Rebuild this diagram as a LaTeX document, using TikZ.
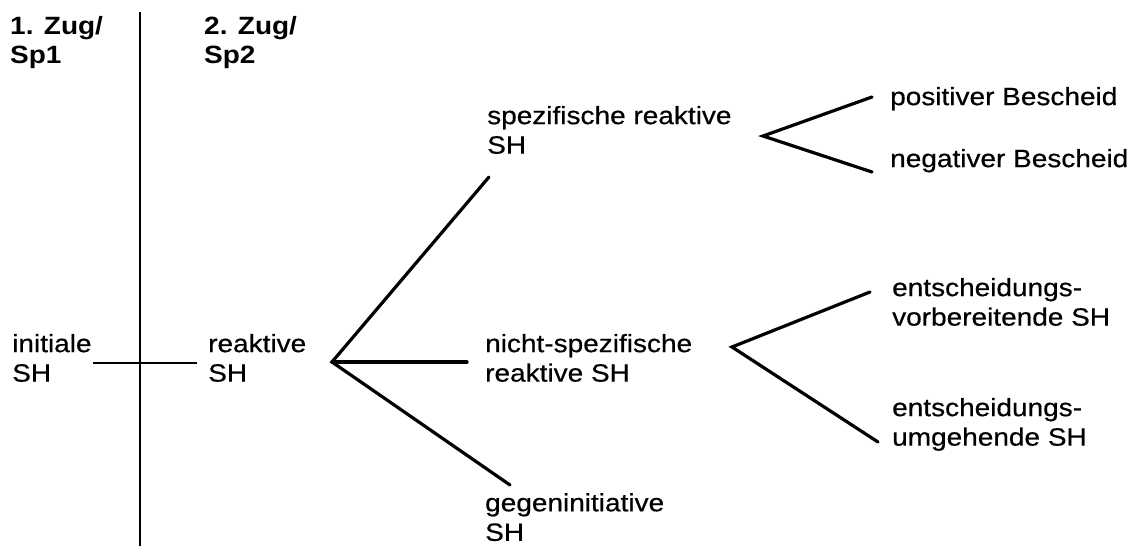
\documentclass[tikz,border=0pt]{standalone}
\usepackage{fontspec}
\setmainfont{Liberation Sans}[FakeStretch=1.12, UprightFeatures={FakeBold=0.5}]

\begin{document}
\begin{tikzpicture}[x=1pt, y=-1pt,
  every node/.style={inner sep=0pt, anchor=north west, align=left,
    font=\fontsize{25}{29.5}\selectfont},
  head/.style={font=\fontsize{25}{29.5}\selectfont\bfseries},
  axis/.style={line width=2.4pt},
  branch/.style={line width=3.2pt, line cap=round}]
  \useasboundingbox (0,0) rectangle (1128,546);

  % Column heads and the divider
  \node[head] (zug1) at (10,15.8) {1. Zug/\\Sp1};
  \node[head] (zug2) at (204,15.8) {2. Zug/\\Sp2};
  \coordinate (div_T) at (140,12);
  \coordinate (div_B) at (140,546);
  \draw[axis] (div_T) -- (div_B);

  % First and second move
  \node (init) at (12,333.8) {initiale\\SH};
  \node (reak) at (208,333.8) {reaktive\\SH};
  \coordinate (link_L) at (93,363);
  \coordinate (link_R) at (197,363);
  \draw[axis] (link_L) -- (link_R);

  % Three kinds of reactive SH
  \node (spez) at (487,105.8) {spezifische reaktive\\SH};
  \node (nspez) at (485,333.8) {nicht-spezifische\\reaktive SH};
  \node (gegen) at (485,493) {gegeninitiative\\SH};
  \coordinate (fork_A) at (332,362);
  \coordinate (A_up) at (489,177);
  \coordinate (A_mid) at (467,362);
  \coordinate (A_low) at (510,485);
  \draw[branch] (A_up) -- (fork_A) -- (A_low);
  \draw[branch] (fork_A) -- (A_mid);

  % Answers to the specific SH
  \node (pos) at (890,86.8) {positiver Bescheid};
  \node (neg) at (890,148.8) {negativer Bescheid};
  \coordinate (fork_B) at (763,136);
  \coordinate (B_up) at (872,97);
  \coordinate (B_low) at (872,172);
  \draw[branch] (B_up) -- (fork_B) -- (B_low);

  % Answers to the non-specific SH
  \node (vorb) at (892,277.8) {entscheidungs-\\vorbereitende SH};
  \node (umg) at (892,397.8) {entscheidungs-\\umgehende SH};
  \coordinate (fork_C) at (732,347);
  \coordinate (C_up) at (870,292);
  \coordinate (C_low) at (878,442);
  \draw[branch] (C_up) -- (fork_C) -- (C_low);
\end{tikzpicture}
\end{document}
